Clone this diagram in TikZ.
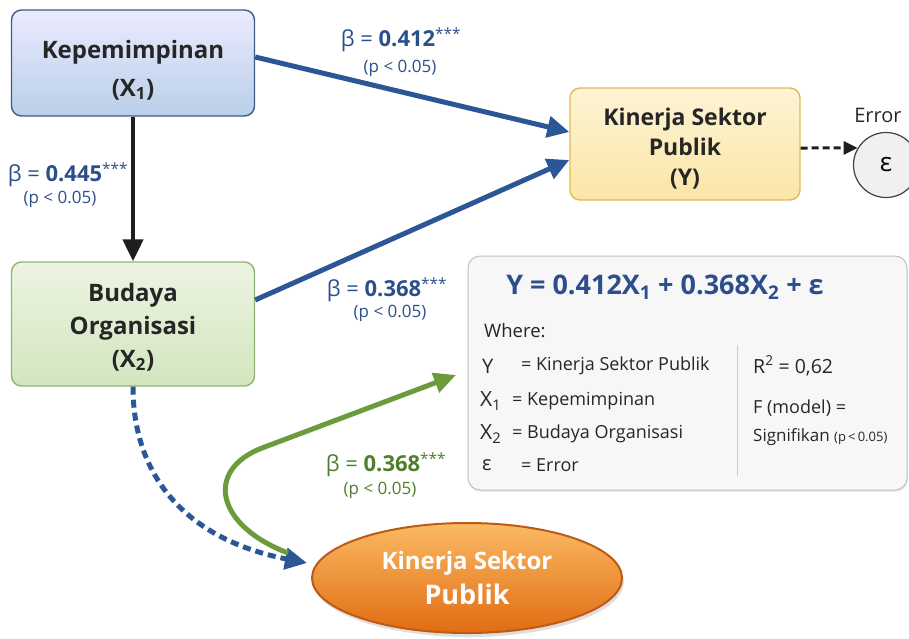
\documentclass[tikz,border=0pt]{standalone}
\usepackage{fontspec}
\setmainfont{Open Sans}
\usetikzlibrary{arrows.meta,shapes.geometric,shadows}
\definecolor{lineblue}{HTML}{2B5797}
\definecolor{txtblue}{HTML}{2C4F8C}
\definecolor{lgreen}{HTML}{6B9B3A}
\definecolor{dgreen}{HTML}{4F7F2A}
\definecolor{darkline}{HTML}{1E1E1E}
\begin{document}
\begin{tikzpicture}[x=1pt,y=-1pt,
  box/.style={rectangle, rounded corners=10pt, line width=1.4pt, align=center, inner sep=0pt,
    text=black!85},
  btext/.style={align=center, inner sep=0pt, text=black!85},
  bluearrow/.style={line width=5pt, draw=lineblue, -{Triangle[length=22pt,width=21pt]}},
  blab/.style={text=txtblue, font=\fontsize{22}{24}\selectfont, inner sep=0pt},
  plab/.style={text=txtblue, font=\fontsize{17}{19}\selectfont, inner sep=0pt},
  leg/.style={anchor=west, inner sep=0pt, text=black!85, font=\fontsize{18}{20}\selectfont}
]
\useasboundingbox (0,0) rectangle (909,638);

% boxes
\node[box, minimum width=243pt, minimum height=106pt, top color=blue!8, bottom color={rgb,255:red,185;green,207;blue,232}, draw={rgb,255:red,62;green,92;blue,135}] (X1) at (133,63) {};
\node[btext, font=\fontsize{24}{38}\selectfont\bfseries] (X1t) at (133,70) {Kepemimpinan\\(X\textsubscript{1})};
\node[box, minimum width=243pt, minimum height=124pt, top color={rgb,255:red,236;green,244;blue,226}, bottom color={rgb,255:red,210;green,230;blue,190}, draw={rgb,255:red,143;green,180;blue,115}] (X2) at (133,324) {};
\node[btext, font=\fontsize{24}{33}\selectfont\bfseries] (X2t) at (133,327) {Budaya\\Organisasi\\(X\textsubscript{2})};
\node[box, minimum width=230pt, minimum height=112pt, top color={rgb,255:red,253;green,244;blue,212}, bottom color={rgb,255:red,251;green,230;blue,168}, draw={rgb,255:red,226;green,184;blue,90}] (Y) at (685,144) {};
\node[btext, font=\fontsize{23}{30}\selectfont\bfseries] (Yt) at (685,149) {Kinerja Sektor\\Publik\\(Y)};

% error
\node[circle, draw=black!75, line width=1.2pt, fill=black!6, minimum size=65pt, inner sep=0pt, font=\fontsize{26}{28}\selectfont] (err) at (886,165) {ε};
\node[font=\fontsize{20}{22}\selectfont, text=black!85, inner sep=0pt] (errlab) at (878,115) {Error};

% equation box
\node[rectangle, rounded corners=12pt, draw=black!25, line width=1pt, fill=black!3, minimum width=439pt, minimum height=234pt, drop shadow={opacity=0.15, shadow xshift=1pt, shadow yshift=-2pt}] (EQ) at (687.5,373) {};
\node[text=txtblue, font=\fontsize{27}{30}\selectfont\bfseries, inner sep=0pt] (eqn) at (665,287) {Y = 0.412X\textsubscript{1} + 0.368X\textsubscript{2} + ε};
\node[leg, font=\fontsize{18.5}{20}\selectfont] (where) at (484,331) {Where:};
\node[leg, font=\fontsize{20}{22}\selectfont] (sY) at (482,366) {Y};
\node[leg] (dY) at (521,366) {= Kinerja Sektor Publik};
\node[leg, font=\fontsize{21}{22}\selectfont] (sX1) at (480,401) {X\textsubscript{1}};
\node[leg] (dX1) at (512,401) {= Kepemimpinan};
\node[leg, font=\fontsize{21}{22}\selectfont] (sX2) at (480,434) {X\textsubscript{2}};
\node[leg] (dX2) at (512,434) {= Budaya Organisasi};
\node[leg, font=\fontsize{20}{22}\selectfont] (sE) at (482,465) {ε};
\node[leg] (dE) at (521,465) {= Error};
\coordinate (divtop) at (737,345);
\coordinate (divbot) at (737,476);
\draw[black!20, line width=1pt] (divtop) -- (divbot);
\node[leg, font=\fontsize{19.5}{22}\selectfont] (R2) at (753,366) {R\textsuperscript{2} = 0,62};
\node[leg] (F) at (753,408) {F (model) =};
\node[leg, font=\fontsize{17}{20}\selectfont] (sig) at (753,437) {Signifikan {\fontsize{13}{15}\selectfont (p\,<\,0.05)}};

% orange ellipse
\node[ellipse, minimum width=310pt, minimum height=110pt, inner sep=0pt, line width=2pt,
  draw={rgb,255:red,190;green,90;blue,20}, top color={rgb,255:red,250;green,186;blue,100}, bottom color={rgb,255:red,225;green,108;blue,18},
  drop shadow={opacity=0.25, shadow xshift=2pt, shadow yshift=-4pt},
  text=white, align=center, font=\fontsize{24}{35}\selectfont\bfseries] (E) at (467,578) {Kinerja Sektor\\{\fontsize{27}{30}\selectfont Publik}};

% arrows
\draw[line width=4.5pt, darkline, -{Triangle[length=22pt,width=20pt]}] (X1.south) -- (X2.north);
\draw[bluearrow] ([yshift=6pt]X1.east) -- ([yshift=12pt]Y.west);
\draw[bluearrow] ([yshift=24pt]X2.east) -- ([yshift=-16pt]Y.west);
\draw[line width=3pt, darkline, dash pattern=on 7pt off 4pt, -{Triangle[length=14pt,width=13pt]}] ([yshift=-4pt]Y.east) -- (err.149);

\coordinate (dEnd) at (307,563);
\draw[line width=5pt, lineblue, dash pattern=on 8pt off 5pt, -{Triangle[length=22pt,width=21pt]}] (X2.south) .. controls (133,480) and (190,540) .. (dEnd);

\coordinate (gStart) at (288,553);
\coordinate (gEnd) at (456,375);
\draw[line width=5pt, lgreen, -{Triangle[length=22pt,width=20pt]}] (gStart) .. controls (215,525) and (205,470) .. (262,448) -- (gEnd);

% labels
\node[blab] (l1) at (401,40) {β = \textbf{0.412}\textsuperscript{***}};
\node[plab] (p1) at (400,68) {(p < 0.05)};
\node[blab] (l2) at (68,175) {β = \textbf{0.445}\textsuperscript{***}};
\node[plab] (p2) at (60,199) {(p < 0.05)};
\node[blab] (l3) at (387,290) {β = \textbf{0.368}\textsuperscript{***}};
\node[plab] (p3) at (390,313) {(p < 0.05)};
\node[blab, text=dgreen] (l4) at (386,465) {β = \textbf{0.368}\textsuperscript{***}};
\node[plab, text=dgreen] (p4) at (380,490) {(p < 0.05)};
\end{tikzpicture}
\end{document}
